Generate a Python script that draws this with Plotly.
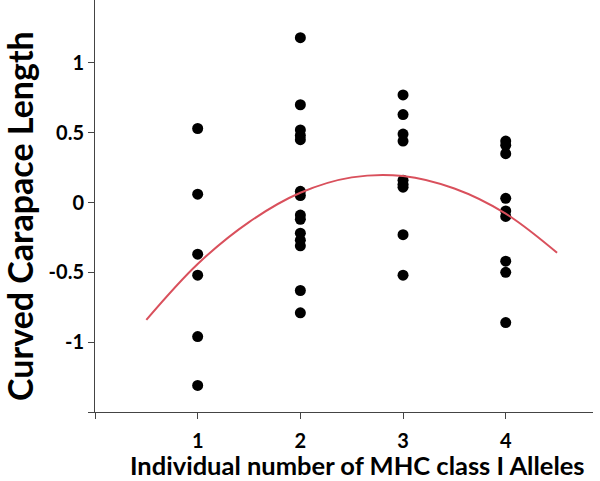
import plotly.graph_objects as go

# MHC class I allele counts and curved carapace length (standardised)
allele_counts = [1] * 6 + [2] * 14 + [3] * 9 + [4] * 9
carapace_length = [
    0.53, 0.06, -0.37, -0.52, -0.96, -1.31,
    1.18, 0.70, 0.52, 0.48, 0.45, 0.08, 0.05, -0.09, -0.12, -0.22, -0.27, -0.31, -0.63, -0.79,
    0.77, 0.63, 0.49, 0.44, 0.16, 0.13, 0.11, -0.23, -0.52,
    0.44, 0.41, 0.35, 0.03, -0.06, -0.10, -0.42, -0.50, -0.86,
]

# quadratic trend line
fit_x = [0.5, 1.0, 1.5, 2.0, 2.5, 3.0, 3.5, 4.0, 4.5]
fit_y = [-0.84, -0.44, -0.14, 0.07, 0.18, 0.19, 0.10, -0.08, -0.36]

x_tickvals = [0, 1, 2, 3, 4]
x_ticktext = ["", "1", "2", "3", "4"]
y_tickvals = [-1.5, -1, -0.5, 0, 0.5, 1]
y_ticktext = ["", "-1", "-0.5", "0", "0.5", "1"]

x_title = "Individual number of MHC class I Alleles"
y_title = "Curved Carapace Length"

font_family = "Lato"

points = go.Scatter(
    x=allele_counts,
    y=carapace_length,
    mode="markers",
    marker=dict(size=11, color="black"),
    showlegend=False,
)

trend = go.Scatter(
    x=fit_x,
    y=fit_y,
    mode="lines",
    line=dict(color="#d9505c", width=2, shape="spline"),
    showlegend=False,
)

axis_style = dict(
    ticks="outside",
    ticklen=6,
    tickcolor="#444",
    showline=True,
    linecolor="#444",
    linewidth=1,
    showgrid=False,
    zeroline=False,
    automargin=False,
    tickfont=dict(size=20, family=font_family, weight="bold"),
)

layout = go.Layout(
    width=600,
    height=481,
    margin=dict(l=95, r=7, t=0, b=69),
    paper_bgcolor="white",
    plot_bgcolor="white",
    font=dict(family=font_family, color="black"),
    xaxis=dict(range=[0, 4.85], tickvals=x_tickvals, ticktext=x_ticktext,
               ticklabelstandoff=5, **axis_style),
    yaxis=dict(range=[-1.5, 1.45], tickvals=y_tickvals, ticktext=y_ticktext, **axis_style),
    annotations=[
        dict(
            text=x_title, xref="paper", yref="paper", x=0.528, y=-0.129,
            xanchor="center", yanchor="middle", showarrow=False,
            font=dict(size=25.5, family=font_family, weight="bold", color="black"),
        ),
        dict(
            text=y_title, xref="paper", yref="paper", x=-0.1506, y=0.476,
            xanchor="center", yanchor="middle", textangle=-90, showarrow=False,
            font=dict(size=34, family=font_family, weight="bold", color="black"),
        ),
    ],
)

fig = go.Figure(data=[points, trend], layout=layout)
# drop the browser's default body margin so the figure sits at the page corner
fig.write_html(
    "out.html",
    config={"displayModeBar": False},
    post_script="document.body.style.margin = '0';",
)
